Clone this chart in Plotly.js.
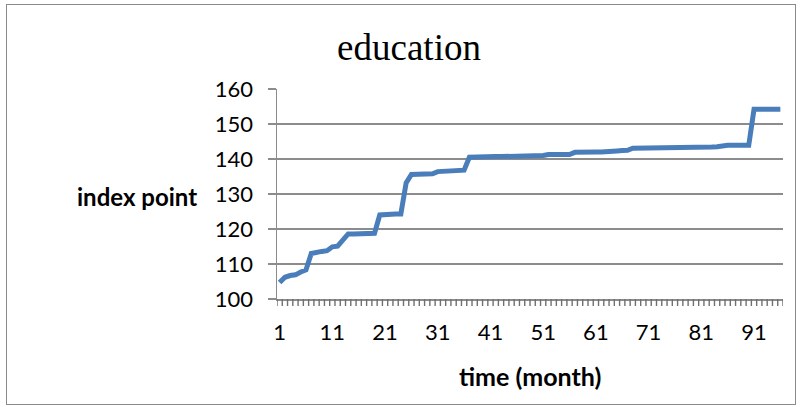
<!DOCTYPE html>
<html>
<head>
<meta charset="utf-8">
<script src="https://cdn.plot.ly/plotly-3.0.1.min.js"></script>
<style>
  html, body { margin: 0; padding: 0; background: #ffffff; }
  #wrap { position: relative; width: 801px; height: 407px; }
  #chart { position: absolute; left: 0; top: 0; width: 801px; height: 407px; }
  #frame { position: absolute; left: 6px; top: 4px; width: 788px; height: 399px;
           border: 1px solid #8a8a8a; pointer-events: none; }
</style>
</head>
<body>
<div id="wrap">
  <div id="chart"></div>
  <div id="frame"></div>
</div>
<script>
// Month index (1..96)
const months = [
  1, 2, 3, 4, 5, 6, 7, 8, 9, 10, 11, 12, 13, 14, 15, 16, 17, 18, 19, 20,
  21, 22, 23, 24, 25, 26, 27, 28, 29, 30, 31, 32, 33, 34, 35, 36, 37, 38, 39, 40,
  41, 42, 43, 44, 45, 46, 47, 48, 49, 50, 51, 52, 53, 54, 55, 56, 57, 58, 59, 60,
  61, 62, 63, 64, 65, 66, 67, 68, 69, 70, 71, 72, 73, 74, 75, 76, 77, 78, 79, 80,
  81, 82, 83, 84, 85, 86, 87, 88, 89, 90, 91, 92, 93, 94, 95, 96
];

// Education price index, one value per month
const educationIndex = [
  104.7, 106.2, 106.7, 106.9, 107.7, 108.3, 113.0, 113.4, 113.6, 113.8,
  114.9, 115.1, 117.0, 118.6, 118.6, 118.6, 118.7, 118.7, 118.8, 124.0,
  124.2, 124.3, 124.3, 124.3, 133.2, 135.6, 135.7, 135.7, 135.7, 135.8,
  136.4, 136.5, 136.5, 136.6, 136.6, 136.8, 140.5, 140.6, 140.6, 140.6,
  140.7, 140.7, 140.7, 140.7, 140.7, 140.7, 140.8, 141.0, 141.0, 141.0,
  141.0, 141.3, 141.3, 141.3, 141.3, 141.3, 141.9, 142.0, 142.0, 142.0,
  142.0, 142.0, 142.0, 142.2, 142.3, 142.4, 142.5, 143.1, 143.1, 143.1,
  143.1, 143.1, 143.2, 143.2, 143.2, 143.2, 143.2, 143.2, 143.2, 143.3,
  143.3, 143.3, 143.4, 143.5, 143.8, 143.9, 143.9, 143.9, 143.9, 143.9,
  154.2, 154.2, 154.2, 154.2, 154.2, 154.2
];

// Months that carry a label on the category axis
const xLabelMonths = [1, 11, 21, 31, 41, 51, 61, 71, 81, 91];

// Value axis ticks
const yTickVals = [100, 110, 120, 130, 140, 150, 160];

const chartTitle = 'education';
const xTitle = 'time (month)';
const yTitle = 'index point';

const gridGray = '#8c8c8c';
const labelFont = 'Lato, "Open Sans", sans-serif';

const xRange = [months[0] - 0.5, months[months.length - 1] + 0.5];
// boundaries between neighbouring months, where the small marks go
const xBoundaries = [months[0] - 0.5].concat(months.map(m => m + 0.5));

// plot height in px, used to size the boundary marks in paper units
const plotHeight = 407 - 89 - 108;
const markLen = 7 / plotHeight;

const boundaryMarks = xBoundaries.map(b => ({
  type: 'line',
  xref: 'x', yref: 'paper',
  x0: b, x1: b,
  y0: 0, y1: -markLen,
  layer: 'above',
  line: { color: '#707070', width: 1.4 }
}));

const trace = {
  x: months,
  y: educationIndex,
  type: 'scatter',
  mode: 'lines',
  line: { color: '#4a7ebb', width: 5, shape: 'linear' },
  hoverinfo: 'x+y'
};

const layout = {
  width: 801,
  height: 407,
  margin: { l: 277, r: 18, t: 89, b: 108 },
  paper_bgcolor: '#ffffff',
  plot_bgcolor: '#ffffff',
  showlegend: false,
  title: {
    text: chartTitle,
    font: { family: '"Liberation Serif", "Times New Roman", serif', size: 37, color: '#000000' },
    x: 409 / 801, xref: 'container', xanchor: 'center',
    y: 0.885, yref: 'container', yanchor: 'middle'
  },
  // labelled months, centred on their slot
  xaxis: {
    range: xRange,
    fixedrange: true,
    showgrid: false,
    zeroline: false,
    showline: true,
    linecolor: gridGray,
    linewidth: 1.5,
    tickmode: 'array',
    tickvals: xLabelMonths,
    ticktext: xLabelMonths.map(String),
    ticks: 'outside',
    ticklen: 5,
    tickcolor: 'rgba(0,0,0,0)',
    ticklabelstandoff: 8,
    tickfont: { family: labelFont, size: 22, color: '#000000' }
  },
  yaxis: {
    range: [100, 160],
    fixedrange: true,
    tickmode: 'array',
    tickvals: yTickVals,
    showgrid: true,
    gridcolor: gridGray,
    gridwidth: 1.5,
    zeroline: false,
    showline: true,
    linecolor: gridGray,
    linewidth: 1.5,
    ticks: 'outside',
    ticklen: 8,
    tickwidth: 1.5,
    tickcolor: gridGray,
    ticklabelstandoff: 10,
    tickfont: { family: labelFont, size: 22, color: '#000000' }
  },
  shapes: boundaryMarks,
  annotations: [
    {
      text: '<b>' + yTitle + '</b>',
      xref: 'paper', yref: 'paper',
      x: (137 - 277) / 506, y: (299 - 196) / 210,
      xanchor: 'center', yanchor: 'middle',
      showarrow: false,
      font: { family: labelFont, size: 24, color: '#000000' }
    },
    {
      text: '<b>' + xTitle + '</b>',
      xref: 'paper', yref: 'paper',
      x: (530 - 277) / 506, y: (299 - 376) / 210,
      xanchor: 'center', yanchor: 'middle',
      showarrow: false,
      font: { family: labelFont, size: 25, color: '#000000' }
    }
  ]
};

Plotly.newPlot('chart', [trace], layout, { displayModeBar: false, staticPlot: true });
</script>
</body>
</html>
